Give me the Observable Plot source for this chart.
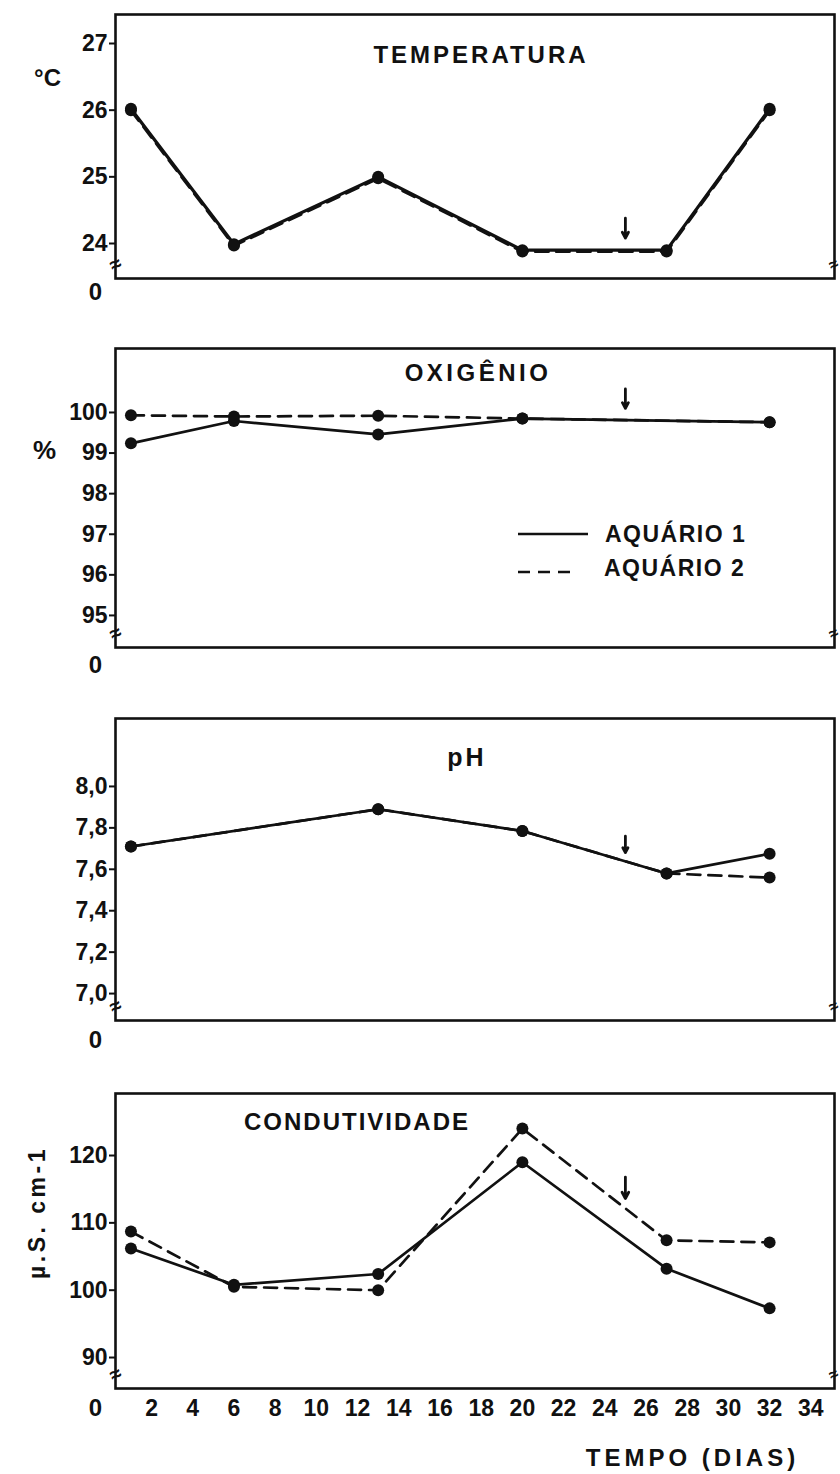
<!DOCTYPE html>
<html>
<head>
<meta charset="utf-8">
<script src="https://cdn.jsdelivr.net/npm/d3@7"></script>
<script src="https://cdn.jsdelivr.net/npm/@observablehq/plot@0.6"></script>
<style>
  body { margin: 0; background: #fff; }
  #wrap { position: relative; width: 840px; height: 1474px; overflow: hidden; background: #fff; }
  .panel { position: absolute; left: 0; }
  #legend { position: absolute; left: 510px; top: 518px; }
  #legend svg { font-family: "Liberation Sans", Arial, sans-serif; font-weight: bold; overflow: visible; }
</style>
</head>
<body>
<div id="wrap"></div>
<script>
// ---------- DATA ----------
const seriesNames = ["AQUÁRIO 1", "AQUÁRIO 2"];
const tickDays = [0, 2, 4, 6, 8, 10, 12, 14, 16, 18, 20, 22, 24, 26, 28, 30, 32, 34];
const arrowDay = 25;

// Temperatura (°C)
const daysTemp = [1, 6, 13, 20, 27, 32];
const temp1 = [26.02, 23.99, 25.0, 23.9, 23.9, 26.02];
const temp2 = [26.0, 23.97, 24.98, 23.88, 23.88, 26.0];
const ticksTemp = [24, 25, 26, 27];
const arrowTemp = [24.38, 24.08];

// Oxigênio (%)
const daysOxy = [1, 6, 13, 20, 32];
const oxy1 = [99.24, 99.79, 99.46, 99.85, 99.76];
const oxy2 = [99.93, 99.9, 99.92, 99.85, 99.76];
const ticksOxy = [95, 96, 97, 98, 99, 100];
const arrowOxy = [100.58, 100.1];

// pH
const daysPH = [1, 13, 20, 27, 32];
const ph1 = [7.71, 7.89, 7.785, 7.58, 7.675];
const ph2 = [7.71, 7.89, 7.785, 7.58, 7.56];
const ticksPH = [7.0, 7.2, 7.4, 7.6, 7.8, 8.0];
const arrowPH = [7.76, 7.68];

// Condutividade (µS cm-1)
const daysCond = [1, 6, 13, 20, 27, 32];
const cond1 = [106.2, 100.8, 102.4, 119.0, 103.2, 97.3];
const cond2 = [108.7, 100.5, 100.0, 124.0, 107.4, 107.1];
const ticksCond = [90, 100, 110, 120];
const arrowCond = [116.8, 113.6];

// ---------- RENDER ----------
const INK = "#111";
const FONT = "'Liberation Sans', Arial, 'DejaVu Sans', sans-serif";
const wrap = document.getElementById("wrap");

function rows(days, a, b) {
  return [
    ...days.map((d, i) => ({day: d, v: a[i], s: seriesNames[0]})),
    ...days.map((d, i) => ({day: d, v: b[i], s: seriesNames[1]}))
  ];
}

function spaceText(svg, content, ls) {
  d3.select(svg).selectAll("text").filter(function () { return this.textContent === content; })
    .attr("letter-spacing", ls);
}

function panel(cfg) {
  const data = rows(cfg.days, cfg.s1, cfg.s2);
  const lw = cfg.lineWidth || 2.7;
  const marks = [
    Plot.frame({stroke: INK, strokeWidth: 2.6}),
    Plot.axisY({ticks: cfg.yTicks, tickFormat: cfg.fmt, tickSize: 6, tickPadding: 2, fontSize: 23, strokeWidth: 2}),
    Plot.line(data.filter(d => d.s === seriesNames[0]), {x: "day", y: "v", stroke: INK, strokeWidth: lw}),
    Plot.line(data.filter(d => d.s === seriesNames[1]), {x: "day", y: "v", stroke: INK, strokeWidth: lw, strokeDasharray: "13,8"}),
    Plot.dot(data, {x: "day", y: "v", r: 6, fill: INK}),
    Plot.arrow([{x: arrowDay, y1: cfg.arrow[0], y2: cfg.arrow[1]}], {x1: "x", x2: "x", y1: "y1", y2: "y2", stroke: INK, strokeWidth: 2.8, headLength: 7, headAngle: 55}),
    Plot.text([cfg.title], {text: d => d, frameAnchor: "top", dx: cfg.titleDx, dy: cfg.titleDy, fontSize: cfg.titleSize, lineAnchor: "middle", textAnchor: "middle"}),
    Plot.text([cfg.ylab], {text: d => d, frameAnchor: "top-left", dx: cfg.ylabDx, dy: cfg.ylabDy, rotate: cfg.ylabRotate || 0, fontSize: cfg.ylabSize, lineAnchor: "middle", textAnchor: "middle"}),
    Plot.text(["0"], {text: d => d, frameAnchor: "bottom-left", dx: -20, dy: cfg.zeroDy, fontSize: 24, lineAnchor: "middle", textAnchor: "middle"}),
    Plot.text(["≈"], {text: d => d, frameAnchor: "bottom-left", dy: -14, rotate: -25, fontSize: 20, lineAnchor: "middle", textAnchor: "middle"}),
    Plot.text(["≈"], {text: d => d, frameAnchor: "bottom-right", dx: -1, dy: -14, rotate: -25, fontSize: 16, lineAnchor: "middle", textAnchor: "middle"})
  ];
  if (cfg.xAxis) {
    marks.push(Plot.axisX({ticks: tickDays.filter(d => d > 0), tickSize: 0, tickPadding: 11, fontSize: 23}));
    marks.push(Plot.text(["TEMPO (DIAS)"], {text: d => d, frameAnchor: "bottom-left", dx: 577, dy: 70, fontSize: 24, lineAnchor: "middle", textAnchor: "middle"}));
  }
  const svg = Plot.plot({
    width: 840,
    height: cfg.height,
    marginLeft: 115,
    marginRight: 6,
    marginTop: cfg.mTop,
    marginBottom: cfg.mBottom,
    x: {domain: [0.25, 35.15], axis: cfg.xAxis ? undefined : null},
    y: {domain: cfg.yDomain},
    style: {fontFamily: FONT, fontWeight: "bold", color: INK, background: "transparent", overflow: "visible"},
    marks
  });
  spaceText(svg, cfg.title, cfg.titleLS);
  spaceText(svg, cfg.ylab, cfg.ylabLS || 0);
  spaceText(svg, "TEMPO (DIAS)", 4);
  svg.classList.add("panel");
  svg.style.top = cfg.top + "px";
  wrap.appendChild(svg);
}

const comma = d => d.toFixed(1).replace(".", ",");

panel({days: daysTemp, s1: temp1, s2: temp2, yDomain: [23.475, 27.435], yTicks: ticksTemp, fmt: d => d,
  top: 0, height: 310, mTop: 14, mBottom: 32, lineWidth: 3.2,
  title: "TEMPERATURA", titleDx: 6, titleDy: 41, titleSize: 24, titleLS: 3,
  ylab: "°C", ylabDx: -68, ylabDy: 64, ylabSize: 24, zeroDy: 14, arrow: arrowTemp});

panel({days: daysOxy, s1: oxy1, s2: oxy2, yDomain: [94.21, 101.576], yTicks: ticksOxy, fmt: d => d,
  top: 310, height: 380, mTop: 38, mBottom: 43,
  title: "OXIGÊNIO", titleDx: 3, titleDy: 25, titleSize: 24, titleLS: 3.5,
  ylab: "%", ylabDx: -71, ylabDy: 102, ylabSize: 26, zeroDy: 18, arrow: arrowOxy});

panel({days: daysPH, s1: ph1, s2: ph2, yDomain: [6.87, 8.328], yTicks: ticksPH, fmt: comma,
  top: 690, height: 370, mTop: 28, mBottom: 40,
  title: "pH", titleDx: -8, titleDy: 39, titleSize: 25, titleLS: 3,
  ylab: "", ylabDx: 0, ylabDy: 0, ylabSize: 20, zeroDy: 20, arrow: arrowPH});

panel({days: daysCond, s1: cond1, s2: cond2, yDomain: [85.4, 129.21], yTicks: ticksCond, fmt: d => d,
  top: 1060, height: 414, mTop: 33, mBottom: 86,
  title: "CONDUTIVIDADE", titleDx: -118, titleDy: 29, titleSize: 24, titleLS: 2,
  ylab: "µ.S. cm-1", ylabDx: -78, ylabDy: 119, ylabRotate: -90, ylabSize: 23, ylabLS: 3.5,
  zeroDy: 20, arrow: arrowCond, xAxis: true});

// Legend (inside the OXIGÊNIO panel)
const leg = document.createElement("div");
leg.id = "legend";
leg.innerHTML = `
<svg width="260" height="70">
  <line x1="8" x2="78" y1="16" y2="16" stroke="${INK}" stroke-width="2.6"/>
  <text x="95" y="16" dy="0.36em" font-size="23" letter-spacing="1.5" fill="${INK}">${seriesNames[0]}</text>
  <line x1="8" x2="64" y1="54" y2="54" stroke="${INK}" stroke-width="2.6" stroke-dasharray="12,8"/>
  <text x="94" y="50" dy="0.36em" font-size="23" letter-spacing="1.5" fill="${INK}">${seriesNames[1]}</text>
</svg>`;
wrap.appendChild(leg);
</script>
</body>
</html>
